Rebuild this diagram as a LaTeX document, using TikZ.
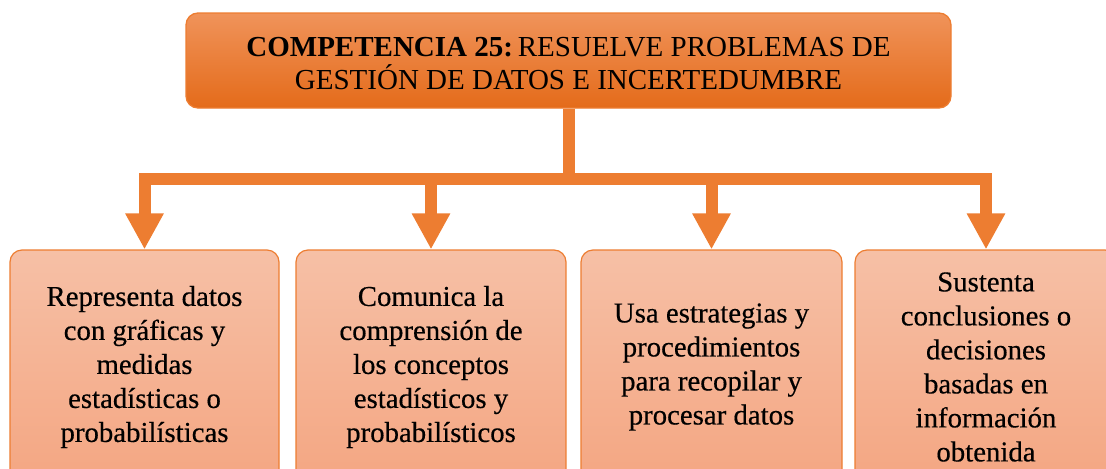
\documentclass[tikz,border=0pt]{standalone}
\usepackage{fontspec}
\setmainfont{Liberation Serif}
\newfontfamily\leaffont{Liberation Serif}[FakeBold=0.4]
\usetikzlibrary{arrows.meta}
\definecolor{conn}{HTML}{ED7D31}
\definecolor{topA}{HTML}{F0935A}
\definecolor{topB}{HTML}{F07C30}
\definecolor{topC}{HTML}{E46B1A}
\definecolor{boxA}{HTML}{F6C0A6}
\definecolor{boxB}{HTML}{F4A682}
\tikzset{
  headbox/.style={draw=conn, line width=1pt, rounded corners=9pt, top color=topA, middle color=topB, bottom color=topC,
    inner sep=0pt, align=center, font=\fontsize{21.75}{25}\selectfont,
    minimum width=765*0.75pt, minimum height=95*0.75pt},
  leafbox/.style={draw=conn, line width=0.9pt, rounded corners=9pt, top color=boxA, bottom color=boxB,
    inner sep=0pt, align=center, font=\leaffont\fontsize{21.6}{25.5}\selectfont,
    minimum height=234*0.75pt},
  connline/.style={draw=conn, line width=9pt},
  connarrow/.style={connline, -{Triangle[width=27pt,length=27pt]}}
}
\begin{document}
\begin{tikzpicture}[x=0.75pt,y=-0.75pt]
\useasboundingbox (0,0) rectangle (1106,468);
\clip (0,0) rectangle (1106,468);
\node[headbox] (top) at (568.5,60.5) {\raisebox{-2.5pt}[\height][\depth]{\parbox{765\dimexpr0.75pt\relax}{\centering\textbf{COMPETENCIA 25:}\,RESUELVE PROBLEMAS DE\\GESTIÓN DE DATOS E INCERTEDUMBRE}}};
\node[leafbox, minimum width=269*0.75pt] (b1) at (144.5,367) {Representa datos\\con gráficas y\\medidas\\estadísticas o\\probabilísticas};
\node[leafbox, minimum width=270*0.75pt] (b2) at (431,367) {Comunica la\\comprensión de\\los conceptos\\estadísticos y\\probabilísticos};
\node[leafbox, minimum width=261*0.75pt] (b3) at (711.5,367) {Usa estrategias y\\procedimientos\\para recopilar y\\procesar datos};
\node[leafbox, minimum width=262*0.75pt] (b4) at (986,367) {Sustenta\\conclusiones o\\decisiones\\basadas en\\información\\obtenida};
\coordinate (bar) at (568,179);
\draw[connline] (top.south) -- (top.south |- bar);
\draw[connarrow] (top.south |- bar) -| (b1.north);
\draw[connarrow] (top.south |- bar) -| (b2.north);
\draw[connarrow] (top.south |- bar) -| (b3.north);
\draw[connarrow] (top.south |- bar) -| (b4.north);
\end{tikzpicture}
\end{document}
